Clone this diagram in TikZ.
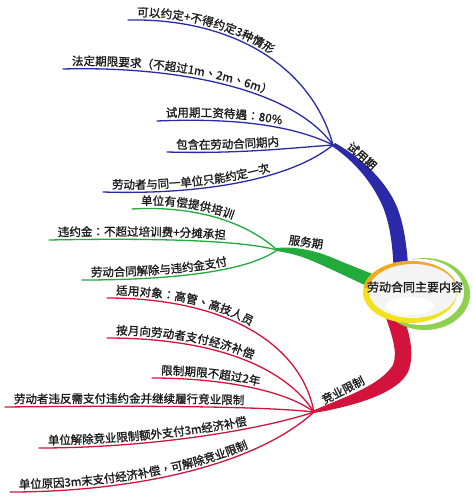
\documentclass[tikz,border=0pt]{standalone}
\usepackage{fontspec}
\setmainfont{Noto Sans CJK TC}[FakeBold=1.2]
\usetikzlibrary{decorations.text}
\definecolor{cblue}{HTML}{2A2AA8}
\definecolor{cgreen}{HTML}{22AA3A}
\definecolor{cred}{HTML}{D2143C}
\definecolor{cyellow}{HTML}{F2E21C}
\definecolor{corange}{HTML}{F5A81E}
\definecolor{clgreen}{HTML}{8ED14F}
\definecolor{ctext}{HTML}{1A1A1A}
\tikzset{
  branch/.style={line width=1.3pt, line cap=round},
  lbl/.style={postaction={decorate, decoration={text along path, text={#1},
      text color=ctext, raise=3.5pt, text align={left indent=9pt}}}},
  trunklbl/.style={inner sep=0pt, text=ctext, font=\fontsize{11.5pt}{14pt}\selectfont},
}
\begin{document}
\begin{tikzpicture}[x=1pt,y=-1pt]
\fontsize{11.5pt}{14pt}\selectfont
\useasboundingbox (0,0) rectangle (473,500);
\fill[white] (0,0) rectangle (473,500);

% hubs
\coordinate (hA) at (333,145);
\coordinate (hB) at (277,250);
\coordinate (hC) at (314,412);

% trunks
\fill[cblue] (332,146) .. controls (355,162) and (372,182) .. (383,207)
  .. controls (390,225) and (393,245) .. (394,278) -- (409,278)
  .. controls (407,245) and (404,225) .. (397,207)
  .. controls (387,183) and (365,160) .. (335,143) -- cycle;
\fill[cgreen] (276,248) .. controls (300,246) and (320,252) .. (340,261)
  .. controls (350,265) and (362,270) .. (378,276) -- (378,291)
  .. controls (362,284) and (350,278) .. (337,272)
  .. controls (315,262) and (300,254) .. (276,251) -- cycle;
\fill[cred] (401,312) .. controls (410,332) and (415,355) .. (408,372)
  .. controls (398,392) and (360,405) .. (314,413)
  -- (312,411) .. controls (350,395) and (380,385) .. (393,365)
  .. controls (398,352) and (392,335) .. (384,312) -- cycle;

% blue branches
\coordinate (a1) at (128,20);
\coordinate (a2) at (63,69);
\coordinate (a3) at (157,121);
\coordinate (a4) at (167,152);
\coordinate (a5) at (103,192);
\draw[branch,cblue,lbl={可以约定+不得约定3种情形}] (a1) .. controls (235,18) and (312,68) .. (hA);
\draw[branch,cblue,lbl={法定期限要求（不超过1m、2m、6m）}] (a2) .. controls (175,66) and (292,88) .. (hA);
\draw[branch,cblue,lbl={试用期工资待遇：80{\%}}] (a3) .. controls (230,118) and (290,124) .. (hA);
\draw[branch,cblue,lbl={包含在劳动合同期内}] (a4) .. controls (240,154) and (290,148) .. (hA);
\draw[branch,cblue,lbl={劳动者与同一单位只能约定一次}] (a5) .. controls (200,195) and (290,180) .. (hA);

% green branches
\coordinate (b1) at (132,209);
\coordinate (b2) at (49,240);
\coordinate (b3) at (82,280);
\draw[branch,cgreen,lbl={单位有偿提供培训}] (b1) .. controls (200,205) and (250,225) .. (hB);
\draw[branch,cgreen,lbl={违约金：不超过培训费+分摊承担}] (b2) .. controls (150,238) and (240,240) .. (hB);
\draw[branch,cgreen,lbl={劳动合同解除与违约金支付}] (b3) .. controls (180,280) and (250,270) .. (hB);

% red branches
\coordinate (c1) at (107,298);
\coordinate (c2) at (107,338);
\coordinate (c3) at (152,378);
\coordinate (c4) at (5,407);
\coordinate (c5) at (39,448);
\coordinate (c6) at (10,492);
\draw[branch,cred,lbl={适用对象：高管、高技人员}] (c1) .. controls (220,298) and (300,340) .. (hC);
\draw[branch,cred,lbl={按月向劳动者支付经济补偿}] (c2) .. controls (200,338) and (280,360) .. (hC);
\draw[branch,cred,lbl={限制期限不超过2年}] (c3) .. controls (220,378) and (285,390) .. (hC);
\draw[branch,cred,lbl={劳动者违反需支付违约金并继续履行竞业限制}] (c4) .. controls (100,406) and (250,405) .. (hC);
\draw[branch,cred,lbl={单位解除竞业限制额外支付3m经济补偿}] (c5) .. controls (150,448) and (260,430) .. (hC);
\draw[branch,cred,lbl={单位原因3m末支付经济补偿，可解除竞业限制}] (c6) .. controls (120,492) and (250,470) .. (hC);

% trunk labels
\node[trunklbl, rotate=-42] (tA) at (362,156) {试用期};
\node[trunklbl, rotate=-8] (tB) at (306,242) {服务期};
\node[trunklbl, rotate=27] (tC) at (343,390) {竞业限制};

% central topic
\fill[clgreen] (425,294) ellipse [x radius=45, y radius=36];
\fill[white] (421,292) ellipse [x radius=43, y radius=33];
\fill[cyellow] (410,292) ellipse [x radius=47, y radius=31];
\draw[corange, line width=4pt] ([shift={(188:45.5 and 29)}]411,292)
  arc[start angle=188, end angle=340, x radius=45.5, y radius=29];
\fill[gray!9] (413,291) ellipse [x radius=44, y radius=27];
\fill[white] (410,306) ellipse [x radius=24, y radius=9];
\node[inner sep=0pt, text=ctext, font=\fontsize{12pt}{14pt}\selectfont] (center) at (415,287) {劳动合同主要内容};
\end{tikzpicture}
\end{document}
